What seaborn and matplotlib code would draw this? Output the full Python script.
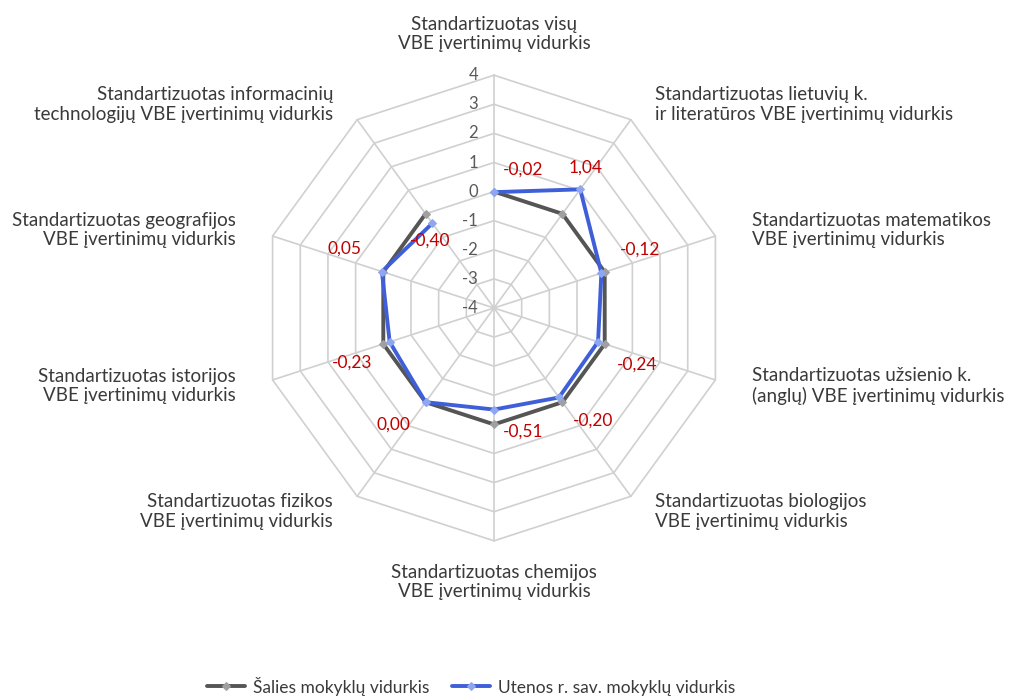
import numpy as np
import pandas as pd
import matplotlib
matplotlib.use("Agg")
import matplotlib.pyplot as plt
import seaborn as sns

# Chart data
categories = [
    "Standartizuotas visų\nVBE įvertinimų vidurkis",
    "Standartizuotas lietuvių k.\nir literatūros VBE įvertinimų vidurkis",
    "Standartizuotas matematikos\nVBE įvertinimų vidurkis",
    "Standartizuotas užsienio k.\n(anglų) VBE įvertinimų vidurkis",
    "Standartizuotas biologijos\nVBE įvertinimų vidurkis",
    "Standartizuotas chemijos\nVBE įvertinimų vidurkis",
    "Standartizuotas fizikos\nVBE įvertinimų vidurkis",
    "Standartizuotas istorijos\nVBE įvertinimų vidurkis",
    "Standartizuotas geografijos\nVBE įvertinimų vidurkis",
    "Standartizuotas informacinių\ntechnologijų VBE įvertinimų vidurkis",
]
salies = [0, 0, 0, 0, 0, 0, 0, 0, 0, 0]
utenos = [-0.02, 1.04, -0.12, -0.24, -0.20, -0.51, 0.00, -0.23, 0.05, -0.40]
tick_values = [-4, -3, -2, -1, 0, 1, 2, 3, 4]
series_names = ["Šalies mokyklų vidurkis", "Utenos r. sav. mokyklų vidurkis"]

R_MIN, R_MAX = -4, 4
PX_PER_UNIT = 29.1
CX, CY = 494, 308
W, H = 1011, 697

sns.set_theme(style="white")
plt.rcParams["font.family"] = ["Lato", "DejaVu Sans"]

n = len(categories)
angles = np.arange(n) * 2 * np.pi / n  # clockwise from top


def to_xy(values):
    r = np.asarray(values, dtype=float) - R_MIN
    return r * np.sin(angles), r * np.cos(angles)


fig = plt.figure(figsize=(W / 100, H / 100), dpi=100)
ax = fig.add_axes([0, 0, 1, 1])
ax.set_xlim(-CX / PX_PER_UNIT, (W - CX) / PX_PER_UNIT)
ax.set_ylim(-(H - CY) / PX_PER_UNIT, CY / PX_PER_UNIT)
ax.axis("off")

grid_color = "#D0D0D0"
# polygon gridlines
for t in tick_values:
    gx, gy = to_xy([t] * n)
    ax.plot(np.append(gx, gx[0]), np.append(gy, gy[0]), color=grid_color, lw=1.2, zorder=1)
# spokes
ox, oy = to_xy([R_MAX] * n)
for x_end, y_end in zip(ox, oy):
    ax.plot([0, x_end], [0, y_end], color=grid_color, lw=1.2, zorder=1)

# tick labels on the top axis
for t in tick_values:
    ax.annotate(str(t), xy=(0, t - R_MIN), xytext=(-16, 0), textcoords="offset pixels",
                ha="right", va="center", fontsize=12, color="#595959")

# series
colors = ["#555555", "#3F5FD8"]
marker_colors = ["#A0A0A0", "#8FA6F0"]
for vals, name, c, mc in zip([salies, utenos], series_names, colors, marker_colors):
    x, y = to_xy(vals)
    df = pd.DataFrame({"x": np.append(x, x[0]), "y": np.append(y, y[0])})
    sns.lineplot(data=df, x="x", y="y", sort=False, ax=ax, color=c, lw=2.8,
                 marker="D", markersize=4, markerfacecolor=mc, markeredgecolor=mc,
                 label=name, legend=False, zorder=3)

# data labels for Utenos
label_offsets = [(29, 23), (5, 22), (39, 23), (39, -23), (34, -23),
                 (29, -22), (-32, -22), (-38, -21), (-37, 23), (-2, -17)]
ux, uy = to_xy(utenos)
for v, xx, yy, off in zip(utenos, ux, uy, label_offsets):
    ax.annotate(f"{v:.2f}".replace(".", ","), xy=(xx, yy), xytext=off,
                textcoords="offset pixels", ha="center", va="center",
                fontsize=12.5, color="#C00000", zorder=4)

# category labels
cat_offsets = [(0, 41), (24, 15), (37, 6), (37, -6), (24, -15),
               (0, -41), (-24, -15), (-37, -6), (-37, 6), (-24, 15)]
for lab, xx, yy, off in zip(categories, ox, oy, cat_offsets):
    if off[0] == 0:
        ha = "center"
    elif off[0] > 0:
        ha = "left"
    else:
        ha = "right"
    ax.annotate(lab, xy=(xx, yy), xytext=off, textcoords="offset pixels",
                ha=ha, va="center", multialignment=ha, fontsize=13.5,
                color="#3A3A3A", linespacing=1.17)

handles, labels = ax.get_legend_handles_labels()
fig.legend(handles, labels, loc="center", bbox_to_anchor=(471 / W, 11 / H),
           ncol=2, frameon=False, fontsize=12.5, handlelength=2.2,
           handletextpad=0.45, columnspacing=1.3, labelcolor="#3A3A3A")

fig.savefig("out.png", dpi=100, facecolor="white")
